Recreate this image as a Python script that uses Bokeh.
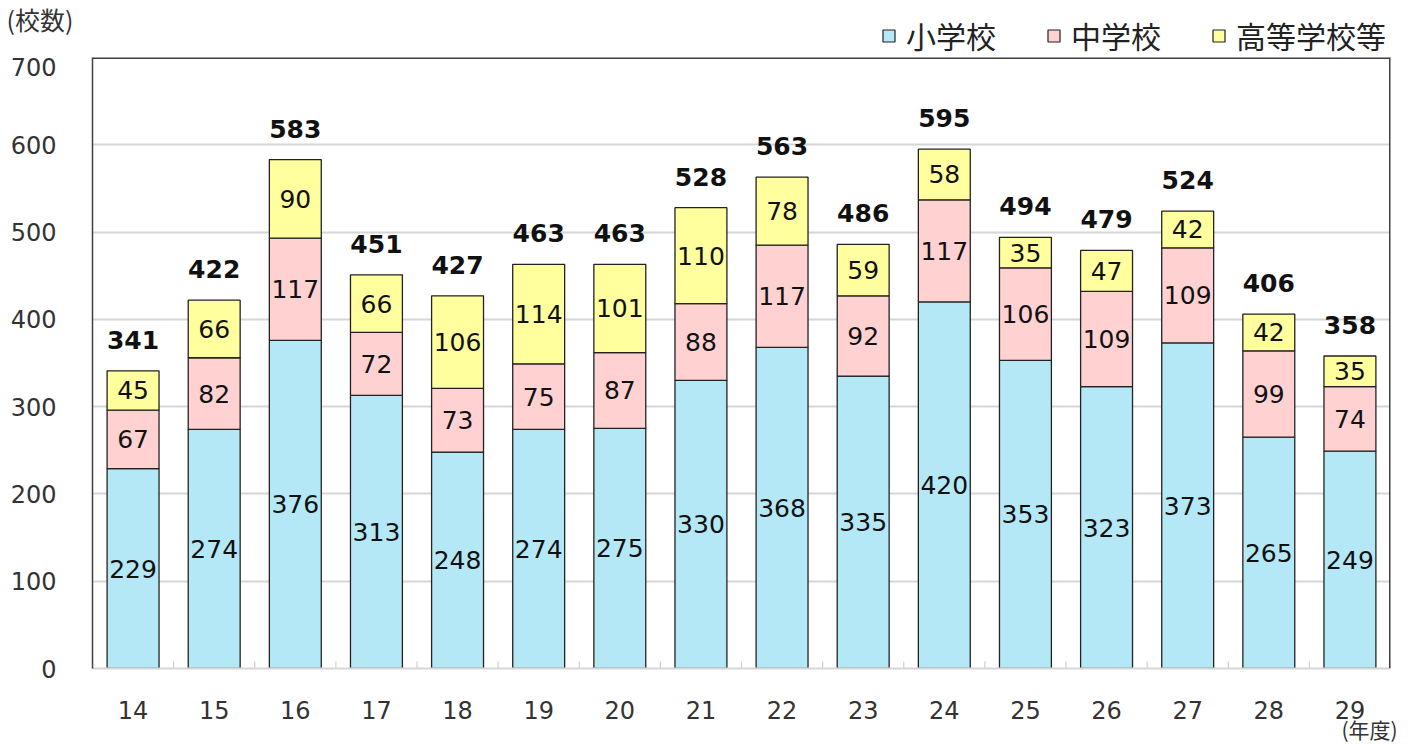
from bokeh.plotting import figure
from bokeh.layouts import column
from bokeh.models import (ColumnDataSource, Range1d, FactorRange, Legend, LegendItem,
                          Label, FixedTicker, Span)
from bokeh.transform import dodge
from bokeh.core.properties import value
from bokeh.embed import file_html
from bokeh.resources import INLINE

years = ["14", "15", "16", "17", "18", "19", "20", "21", "22", "23", "24", "25", "26", "27", "28", "29"]
elementary = [229, 274, 376, 313, 248, 274, 275, 330, 368, 335, 420, 353, 323, 373, 265, 249]
junior = [67, 82, 117, 72, 73, 75, 87, 88, 117, 92, 117, 106, 109, 109, 99, 74]
high = [45, 66, 90, 66, 106, 114, 101, 110, 78, 59, 58, 35, 47, 42, 42, 35]
totals = [341, 422, 583, 451, 427, 463, 463, 528, 563, 486, 595, 494, 479, 524, 406, 358]
series_names = ["小学校", "中学校", "高等学校等"]
y_ticks = [0, 100, 200, 300, 400, 500, 600, 700]

colors = ["#B5E8F6", "#FFD1D1", "#FFFF9E"]
NUM_FONT = "DejaVu Sans"
JP_FONT = "Noto Sans CJK JP"
W = 1409
HEAD_H = 57
MAIN_H = 689

src = ColumnDataSource(dict(
    x=years, e=elementary, j=junior, h=high, t=totals,
    e_mid=[v / 2 for v in elementary],
    j_mid=[a + b / 2 for a, b in zip(elementary, junior)],
    h_mid=[a + b + c / 2 for a, b, c in zip(elementary, junior, high)],
    e_s=[str(v) for v in elementary], j_s=[str(v) for v in junior],
    h_s=[str(v) for v in high], t_s=[str(v) for v in totals],
    zero=[0] * len(years), tick=[8] * len(years),
))

# ---------------- header: legend and unit label ----------------
head = figure(width=W, height=HEAD_H, x_range=Range1d(0, W), y_range=Range1d(0, HEAD_H),
              output_backend="svg", toolbar_location=None,
              x_axis_location=None, y_axis_location=None,
              min_border_left=0, min_border_right=0, min_border_top=0, min_border_bottom=0)
if "frame_align" in head.properties():
    head.frame_align = False
head.outline_line_color = None
head.xgrid.grid_line_color = None
head.ygrid.grid_line_color = None
# legend swatches: renderers whose single point lies outside the visible range
swatch = ColumnDataSource(dict(x=[-W], top=[0]))
dummies = [head.vbar(x="x", top="top", width=1, source=swatch, fill_color=c,
                     line_color="#222222", line_width=1.2) for c in colors]
legend = Legend(items=[LegendItem(label=n, renderers=[r]) for n, r in zip(series_names, dummies)],
                orientation="horizontal", location=(881, 0),
                glyph_width=15, glyph_height=15, label_standoff=10, spacing=50,
                padding=0, margin=0, border_line_color=None, background_fill_alpha=0,
                label_text_font=JP_FONT, label_text_font_size="30px", label_text_color="#222222")
head.add_layout(legend, "center")
head.add_layout(Label(x=6, y=39, x_units="screen", y_units="screen", text="(校数)",
                      text_font=JP_FONT, text_font_size="25px", text_color="#333333",
                      text_align="left", text_baseline="middle"))

# ---------------- main chart ----------------
p = figure(width=W, height=MAIN_H, x_range=FactorRange(*years),
           y_range=Range1d(y_ticks[0], y_ticks[-1]),
           output_backend="svg", toolbar_location=None,
           min_border_left=92, min_border_right=19, min_border_top=0, min_border_bottom=76)
p.outline_line_color = None
p.background_fill_color = "white"
p.border_fill_color = "white"

renderers = p.vbar_stack(["e", "j", "h"], x="x", width=0.64, source=src,
                         fill_color=colors, line_color="#222222", line_width=1.3)

for col, txt in (("e_mid", "e_s"), ("j_mid", "j_s"), ("h_mid", "h_s")):
    p.text(x="x", y=col, text=txt, source=src, text_align="center", text_baseline="middle",
           text_font=value(NUM_FONT), text_font_size="25px", text_color="#111111")
p.text(x="x", y="t", text="t_s", source=src, text_align="center", text_baseline="middle",
       y_offset=-31, text_font=value(NUM_FONT), text_font_size="25px",
       text_font_style="bold", text_color="#111111")

# small ticks at category boundaries
p.segment(x0=dodge("x", 0.5, range=p.x_range), x1=dodge("x", 0.5, range=p.x_range),
          y0="zero", y1="tick", source=src, line_color="#cfcfcf", line_width=1.2)
p.segment(x0=dodge("x", -0.5, range=p.x_range), x1=dodge("x", -0.5, range=p.x_range),
          y0="zero", y1="tick", source=ColumnDataSource(dict(x=years[:1], zero=[0], tick=[8])),
          line_color="#cfcfcf", line_width=1.2)

p.xgrid.grid_line_color = None
p.ygrid.grid_line_color = "#d6d6d6"
p.ygrid.grid_line_width = 2
p.yaxis.ticker = FixedTicker(ticks=y_ticks)
p.ygrid.ticker = FixedTicker(ticks=y_ticks)

# top and right frame lines
p.add_layout(Span(location=y_ticks[-1], dimension="width", line_color="#404040", line_width=3))
p.add_layout(Span(location=len(years), dimension="height", line_color="#404040", line_width=3))

p.yaxis.axis_line_color = "#404040"
p.yaxis.axis_line_width = 1.5
p.yaxis.major_tick_line_color = None
p.yaxis.minor_tick_line_color = None
p.yaxis.major_label_standoff = 30
p.yaxis.major_label_text_font = NUM_FONT
p.yaxis.major_label_text_font_size = "24px"
p.yaxis.major_label_text_color = "#333333"

p.xaxis.axis_line_color = "#d6d6d6"
p.xaxis.axis_line_width = 2
p.xaxis.major_tick_line_color = None
p.xaxis.minor_tick_line_color = None
p.xaxis.major_label_standoff = 26
p.xaxis.major_label_text_font = NUM_FONT
p.xaxis.major_label_text_font_size = "24px"
p.xaxis.major_label_text_color = "#333333"
p.xaxis.axis_label = "(年度)\u3000\u3000"
p.xaxis.axis_label_align = "end"
p.xaxis.axis_label_standoff = -8
p.xaxis.axis_label_text_font = JP_FONT
p.xaxis.axis_label_text_font_size = "21px"
p.xaxis.axis_label_text_font_style = "normal"
p.xaxis.axis_label_text_color = "#333333"

layout = column(head, p, spacing=0)
open("out.html", "w").write(file_html(layout, INLINE))
